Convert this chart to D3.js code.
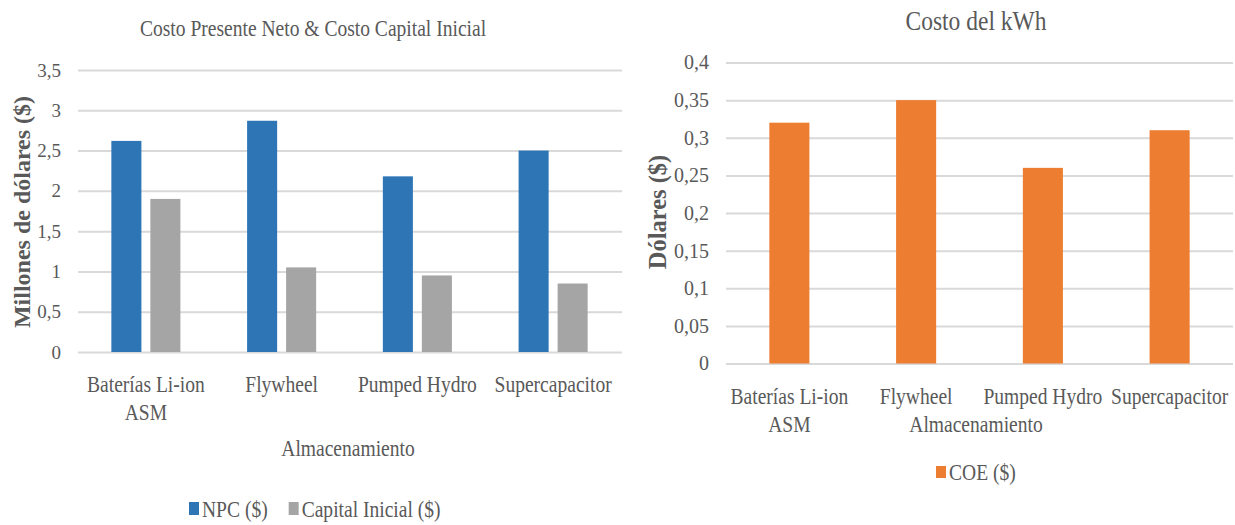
<!DOCTYPE html>
<html>
<head>
<meta charset="utf-8">
<script src="https://cdn.jsdelivr.net/npm/d3@7"></script>
<style>
  html, body { margin: 0; padding: 0; background: #fff; }
  svg text { font-family: "Liberation Serif", "DejaVu Serif", serif; }
  .grid line { stroke: #d9d9d9; stroke-width: 2; }
  .grid .domain { display: none; }
  .grid text { fill: #595959; }
</style>
</head>
<body>
<svg id="chart" width="1235" height="525"></svg>
<script>
// Storage technologies compared in both panels
const categories = ["Baterías Li-ion ASM", "Flywheel", "Pumped Hydro", "Supercapacitor"];

// Left panel: millions of dollars
const npcValues = [2.62, 2.87, 2.18, 2.50];
const capitalValues = [1.90, 1.05, 0.95, 0.85];
const leftSeries = ["NPC ($)", "Capital Inicial ($)"];
const leftTicks = [0, 0.5, 1, 1.5, 2, 2.5, 3, 3.5];

// Right panel: dollars per kWh
const coeValues = [0.32, 0.35, 0.26, 0.31];
const rightSeries = ["COE ($)"];
const rightTicks = [0, 0.05, 0.1, 0.15, 0.2, 0.25, 0.3, 0.35, 0.4];

const TEXT = "#595959";
const FONT = "'Liberation Serif', 'DejaVu Serif', serif";
const COLORS = { "NPC ($)": "#2e75b6", "Capital Inicial ($)": "#a5a5a5", "COE ($)": "#ed7d31" };
const SX = 0.85; // horizontal condensing of the serif labels

const svg = d3.select("#chart");
const commaFmt = f => d => f(d).replace(".", ",");

// Draws a text label, condensed horizontally around its anchor
function label(g, x, y, str, size, opts = {}) {
  const sx = opts.sx ?? SX;
  const t = g.append("text")
    .attr("transform", `translate(${x},${y})` + (opts.rotate ? ` rotate(${opts.rotate})` : "") + ` scale(${sx},1)`)
    .attr("text-anchor", opts.anchor || "middle")
    .attr("font-family", FONT)
    .style("font-size", size + "px")
    .style("fill", TEXT)
    .text(str);
  if (opts.weight) t.style("font-weight", opts.weight);
  return t;
}

// Wraps a long category name onto two lines at its last space
function wrapLines(s) {
  if (s.length > 15 && s.includes(" ")) {
    const i = s.lastIndexOf(" ");
    return [s.slice(0, i), s.slice(i + 1)];
  }
  return [s];
}

// ---------- Left panel: Costo Presente Neto & Costo Capital Inicial ----------
(function () {
  const g = svg.append("g");
  const x0 = d3.scaleBand().domain(categories).range([78, 621]).padding(0);
  const x1 = d3.scaleBand().domain(leftSeries).range([0, x0.bandwidth()])
    .paddingInner(0.23).paddingOuter(0.855);
  const y = d3.scaleLinear().domain([0, 3.5]).range([352, 70]);
  const gridRight = 622;

  g.append("g").attr("class", "grid")
    .attr("transform", "translate(78,0)")
    .call(d3.axisLeft(y).tickValues(leftTicks).tickFormat(commaFmt(d3.format(".1~f")))
      .tickSize(-(gridRight - 78)).tickPadding(17))
    .attr("font-family", FONT)
    .call(s => s.selectAll("text").attr("font-family", FONT).style("font-size", "19px"));

  const rows = categories.map((c, i) => ({ c, vals: [npcValues[i], capitalValues[i]] }));
  g.selectAll("g.cat").data(rows).join("g")
    .attr("class", "cat")
    .attr("transform", d => `translate(${x0(d.c)},0)`)
    .selectAll("rect").data(d => leftSeries.map((s, j) => ({ s, v: d.vals[j] }))).join("rect")
    .attr("x", d => x1(d.s))
    .attr("width", x1.bandwidth())
    .attr("y", d => y(d.v))
    .attr("height", d => y(0) - y(d.v))
    .attr("fill", d => COLORS[d.s]);

  categories.forEach(c => {
    const cx = x0(c) + x0.bandwidth() / 2;
    wrapLines(c).forEach((line, k) => label(g, cx, 392 + k * 28, line, 23));
  });

  label(g, 313, 36, "Costo Presente Neto & Costo Capital Inicial", 23);
  label(g, 348, 456, "Almacenamiento", 23);
  label(g, 30, 212, "Millones de dólares ($)", 24, { rotate: -90, sx: 1, weight: "bold" });

  // legend
  let lx = 189;
  leftSeries.forEach(s => {
    g.append("rect").attr("x", lx).attr("y", 502).attr("width", 10).attr("height", 13).attr("fill", COLORS[s]);
    const t = label(g, lx + 13, 517, s, 23, { anchor: "start" });
    lx += 13 + t.node().getComputedTextLength() * SX + 21;
  });
})();

// ---------- Right panel: Costo del kWh ----------
(function () {
  const g = svg.append("g");
  const x = d3.scaleBand().domain(categories).range([726, 1233]).paddingInner(0.684).paddingOuter(0.342);
  const y = d3.scaleLinear().domain([0, 0.4]).range([363.5, 62.5]);

  g.append("g").attr("class", "grid")
    .attr("transform", "translate(726,0)")
    .call(d3.axisLeft(y).tickValues(rightTicks).tickFormat(commaFmt(d3.format(".2~f")))
      .tickSize(-(1233 - 726)).tickPadding(17))
    .attr("font-family", FONT)
    .call(s => s.selectAll("text").attr("font-family", FONT).style("font-size", "20px"));

  g.selectAll("rect.bar").data(categories.map((c, i) => ({ c, v: coeValues[i] }))).join("rect")
    .attr("class", "bar")
    .attr("x", d => x(d.c))
    .attr("width", x.bandwidth())
    .attr("y", d => y(d.v))
    .attr("height", d => y(0) - y(d.v))
    .attr("fill", COLORS["COE ($)"]);

  categories.forEach(c => {
    const cx = x(c) + x.bandwidth() / 2;
    wrapLines(c).forEach((line, k) => label(g, cx, 404 + k * 28, line, 23));
  });

  label(g, 976, 30, "Costo del kWh", 27, { sx: 0.87 });
  label(g, 976, 432, "Almacenamiento", 23);
  label(g, 666, 212, "Dólares ($)", 24.5, { rotate: -90, sx: 1, weight: "bold" });

  rightSeries.forEach(s => {
    g.append("rect").attr("x", 936).attr("y", 466).attr("width", 10).attr("height", 12).attr("fill", COLORS[s]);
    label(g, 949, 480, s, 23, { anchor: "start" });
  });
})();
</script>
</body>
</html>
